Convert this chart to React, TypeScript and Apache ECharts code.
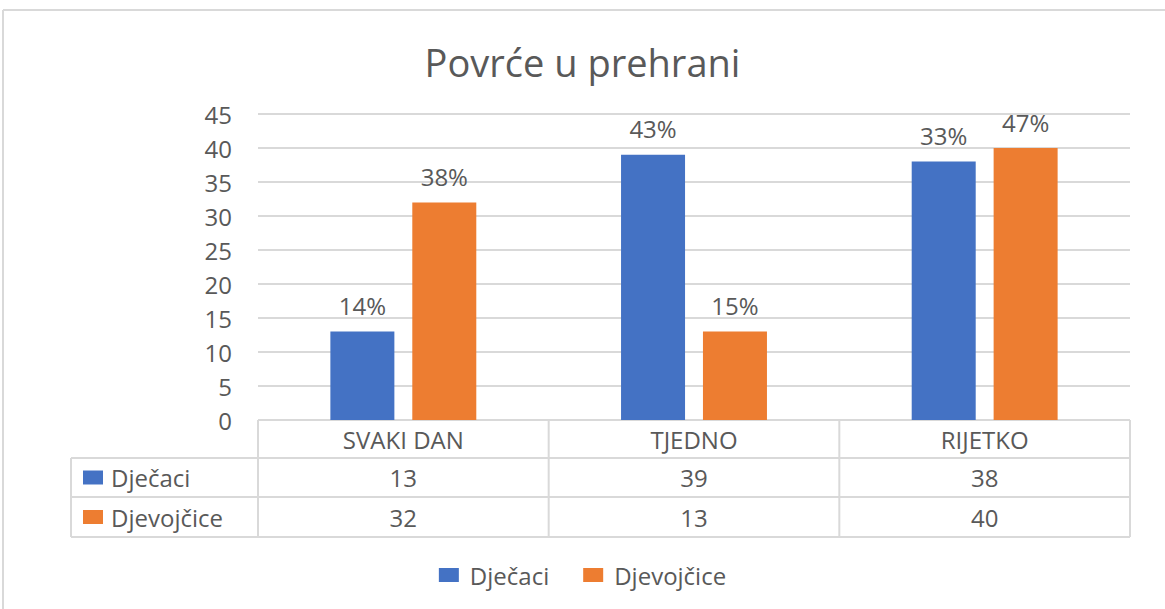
import React, { useEffect, useRef } from 'react';
import * as echarts from 'echarts';

const categories = ['SVAKI DAN', 'TJEDNO', 'RIJETKO'];
const seriesNames = ['Dječaci', 'Djevojčice'];
const boys = [13, 39, 38];
const girls = [32, 13, 40];
const boysLabels = ['14%', '43%', '33%'];
const girlsLabels = ['38%', '15%', '47%'];
const yMin = 0;
const yMax = 45;
const yStep = 5;
const chartTitle = 'Povrće u prehrani';

const colors = ['#4472C4', '#ED7D31'];
const W = 1165;
const H = 609;
const FONT = '"Open Sans", "Noto Sans", sans-serif';
const TEXT = '#595959';
const LINE = '#d9d9d9';
const gridL = 258;
const gridR = 1130;
const gridT = 114;
const gridB = 420;
const rowEdges = [420, 458, 497, 537];
const tableL = 71;
const FS = 24;

export default function App() {
  const ref = useRef<HTMLDivElement>(null);
  useEffect(() => {
    if (!ref.current) return;
    const chart = echarts.init(ref.current, null, { renderer: 'svg' });
    const colW = (gridR - gridL) / categories.length;
    const colEdges = categories.map((_, i) => gridL + i * colW).concat([gridR]);
    const g: any[] = [];
    // outer chart border
    g.push({ type: 'line', shape: { x1: 3, y1: 10, x2: W, y2: 10 }, style: { stroke: LINE, lineWidth: 2 } });
    g.push({ type: 'line', shape: { x1: 3, y1: 10, x2: 3, y2: H }, style: { stroke: LINE, lineWidth: 2 } });
    // table horizontal lines
    g.push({ type: 'line', shape: { x1: gridL, y1: rowEdges[0], x2: gridR, y2: rowEdges[0] }, style: { stroke: LINE, lineWidth: 2 } });
    for (let r = 1; r < rowEdges.length; r++) {
      g.push({ type: 'line', shape: { x1: tableL, y1: rowEdges[r], x2: gridR, y2: rowEdges[r] }, style: { stroke: LINE, lineWidth: 2 } });
    }
    // vertical lines
    colEdges.forEach((x) => {
      g.push({ type: 'line', shape: { x1: x, y1: rowEdges[0], x2: x, y2: rowEdges[3] }, style: { stroke: LINE, lineWidth: 2 } });
    });
    g.push({ type: 'line', shape: { x1: tableL, y1: rowEdges[1], x2: tableL, y2: rowEdges[3] }, style: { stroke: LINE, lineWidth: 2 } });
    // header
    categories.forEach((c, i) => {
      g.push({
        type: 'text',
        x: colEdges[i] + colW / 2,
        y: (rowEdges[0] + rowEdges[1]) / 2,
        style: { text: c, fill: TEXT, font: `${FS}px ${FONT}`, textAlign: 'center', textVerticalAlign: 'middle' },
      });
    });
    const rows = [boys, girls];
    rows.forEach((vals, r) => {
      const cy = (rowEdges[r + 1] + rowEdges[r + 2]) / 2;
      g.push({ type: 'rect', shape: { x: 83, y: cy - 7, width: 20, height: 14 }, style: { fill: colors[r] } });
      g.push({
        type: 'text',
        x: 111,
        y: cy,
        style: { text: seriesNames[r], fill: TEXT, font: `${FS}px ${FONT}`, textAlign: 'left', textVerticalAlign: 'middle' },
      });
      vals.forEach((v, i) => {
        g.push({
          type: 'text',
          x: colEdges[i] + colW / 2,
          y: cy,
          style: { text: String(v), fill: TEXT, font: `${FS}px ${FONT}`, textAlign: 'center', textVerticalAlign: 'middle' },
        });
      });
    });

    const labelSets = [boysLabels, girlsLabels];
    chart.setOption({
      animation: false,
      color: colors,
      textStyle: { fontFamily: FONT },
      title: {
        text: chartTitle,
        left: 'center',
        top: 38,
        textStyle: { fontFamily: FONT, fontSize: 38, fontWeight: 'normal', color: TEXT },
      },
      legend: {
        data: seriesNames,
        bottom: 17,
        left: 'center',
        icon: 'rect',
        itemWidth: 20,
        itemHeight: 14,
        itemGap: 34,
        textStyle: { fontFamily: FONT, fontSize: FS, color: TEXT, padding: [0, 0, 0, 6] },
      },
      grid: { left: gridL, right: W - gridR, top: gridT, bottom: H - gridB, containLabel: false },
      xAxis: {
        type: 'category',
        data: categories,
        axisLine: { show: false },
        axisTick: { show: false },
        axisLabel: { show: false },
      },
      yAxis: {
        type: 'value',
        min: yMin,
        max: yMax,
        interval: yStep,
        axisLine: { show: false },
        axisTick: { show: false },
        axisLabel: { margin: 26, fontFamily: FONT, fontSize: FS, color: TEXT },
        splitLine: { lineStyle: { color: LINE, width: 2 } },
      },
      series: [boys, girls].map((d, s) => ({
        name: seriesNames[s],
        type: 'bar',
        data: d,
        barWidth: 64,
        barGap: '28%',
        label: {
          show: true,
          position: 'top',
          distance: 14,
          fontFamily: FONT,
          fontSize: FS,
          color: TEXT,
          formatter: (p: any) => labelSets[s][p.dataIndex],
        },
      })),
      graphic: g,
    });
    return () => chart.dispose();
  }, []);
  return <div ref={ref} style={{ position: 'fixed', left: 0, top: 0, width: W, height: H, background: '#fff' }} />;
}
